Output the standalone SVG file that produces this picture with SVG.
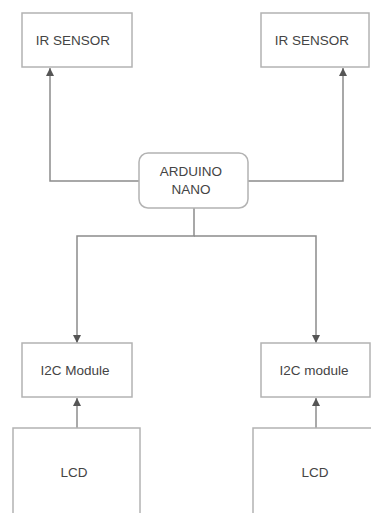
<svg xmlns="http://www.w3.org/2000/svg" width="371" height="513" viewBox="0 0 371 513">
<defs>
<style>
.box{fill:#fff;stroke:#b3b3b3;stroke-width:1.5}
.t{font-family:"Liberation Sans",Arial,sans-serif;font-size:13.5px;fill:#444;text-anchor:middle}
.c{fill:none;stroke:#8c8c8c;stroke-width:1.5}
</style>
<marker id="ah" viewBox="0 0 10 10" refX="10" refY="5" markerWidth="8" markerHeight="8" markerUnits="userSpaceOnUse" orient="auto">
<path d="M0,0 L10,5 L0,10 Z" fill="#555"/>
</marker>
</defs>
<rect width="371" height="513" fill="#fff"/>
<g id="connectors">
<path class="c" d="M139,181 H50 V68" marker-end="url(#ah)"/>
<path class="c" d="M248,181 H343 V68" marker-end="url(#ah)"/>
<path class="c" d="M194,208 V236 H77 V343" marker-end="url(#ah)"/>
<path class="c" d="M194,236 H316 V343" marker-end="url(#ah)"/>
<path class="c" d="M77,428 V398" marker-end="url(#ah)"/>
<path class="c" d="M316,428 V398" marker-end="url(#ah)"/>
</g>
<g id="ir1"><rect class="box" x="22" y="13" width="110" height="54"/><text class="t" x="73" y="45">IR SENSOR</text></g>
<g id="ir2"><rect class="box" x="261" y="13" width="108" height="54"/><text class="t" x="312" y="45">IR SENSOR</text></g>
<g id="arduino"><rect class="box" x="139" y="153" width="109" height="55" rx="9"/><text class="t" x="191" y="176">ARDUINO</text><text class="t" x="191" y="194">NANO</text></g>
<g id="i2c1"><rect class="box" x="22" y="343" width="110" height="54"/><text class="t" x="75" y="375">I2C Module</text></g>
<g id="i2c2"><rect class="box" x="261" y="343" width="109" height="54"/><text class="t" x="314" y="375">I2C module</text></g>
<g id="lcd1"><rect class="box" x="13" y="428" width="127" height="100"/><text class="t" x="74" y="477">LCD</text></g>
<g id="lcd2"><rect class="box" x="253" y="428" width="130" height="100"/><text class="t" x="315" y="477">LCD</text></g>
</svg>
